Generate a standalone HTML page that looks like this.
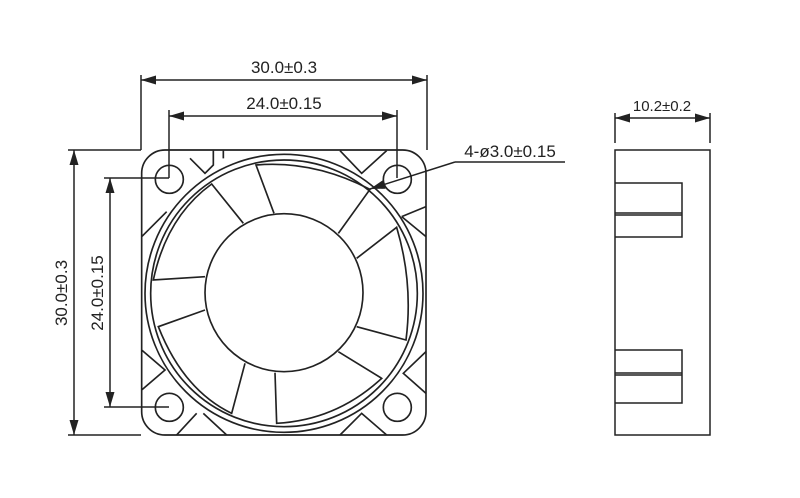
<!DOCTYPE html><html><head><style>body{margin:0;background:#fff}svg{display:block}text{font-family:"Liberation Sans",sans-serif;font-size:17px;fill:#222}</style></head><body>
<svg width="800" height="498" viewBox="0 0 800 498">
<defs><marker id="a" viewBox="0 0 10 6" refX="10" refY="3" markerWidth="10" markerHeight="6" orient="auto-start-reverse"><path d="M0,0L10,3L0,6z" fill="#222"/></marker></defs>
<g stroke="#222" fill="none" stroke-width="1.5">
<!-- dims top -->
<line x1="141" y1="75" x2="141" y2="150"/><line x1="427" y1="75" x2="427" y2="150"/>
<line x1="141" y1="80" x2="427" y2="80" marker-start="url(#a)" marker-end="url(#a)"/>
<line x1="169" y1="110" x2="169" y2="178"/><line x1="397" y1="110" x2="397" y2="178"/>
<line x1="169" y1="116" x2="397" y2="116" marker-start="url(#a)" marker-end="url(#a)"/>
<!-- dims left -->
<line x1="68" y1="150" x2="141" y2="150"/><line x1="68" y1="435" x2="141" y2="435"/>
<line x1="74" y1="150" x2="74" y2="435" marker-start="url(#a)" marker-end="url(#a)"/>
<line x1="104" y1="178" x2="169" y2="178"/><line x1="104" y1="407" x2="169" y2="407"/>
<line x1="110" y1="178" x2="110" y2="407" marker-start="url(#a)" marker-end="url(#a)"/>
<!-- leader -->
<line x1="455" y1="162" x2="565" y2="162"/>
<line x1="455" y1="162" x2="370" y2="189" marker-end="url(#a)"/>
<!-- side -->
<line x1="615" y1="113" x2="615" y2="143"/><line x1="710" y1="113" x2="710" y2="143"/>
<line x1="615" y1="118" x2="710" y2="118" marker-start="url(#a)" marker-end="url(#a)"/>
<rect x="615" y="150" width="95" height="285"/>
<path d="M615,183H682V237H615M615,213H682M615,215H682M615,350H682V403H615M615,373H682M615,375H682"/>
<g transform="translate(130,130) scale(0.33333)" stroke-width="5">
<rect x="35" y="60" width="853" height="855" rx="70"/>
<circle cx="118" cy="148" r="42"/><circle cx="802" cy="148" r="42"/><circle cx="118" cy="832" r="42"/><circle cx="802" cy="832" r="42"/>
<circle cx="462" cy="490" r="417"/><circle cx="462" cy="490" r="400"/>
<circle cx="462" cy="488" r="237"/>
<path d="M432,250L378,105Q550,90 720,178L625,310"/>
<path d="M680,385L800,292Q850,460 828,630L680,590"/>
<path d="M625,665L755,745Q620,870 440,880L435,728"/>
<path d="M225,540L85,590Q160,780 305,850L345,700"/>
<path d="M225,440L70,450Q110,260 245,162L340,280"/>
<path d="M35,320L110,245M180,85L225,130L250,105V62M280,62V85M630,62L695,130L770,62M888,230L815,260M815,260L888,320M35,660L105,720L35,780M220,850L290,915M200,850L140,915M630,915L695,850L770,915M888,665L820,730L888,790"/>
</g></g>
<text x="284" y="73" text-anchor="middle">30.0±0.3</text>
<text x="284" y="109" text-anchor="middle">24.0±0.15</text>
<text x="510" y="157" text-anchor="middle">4-ø3.0±0.15</text>
<text x="662" y="111" text-anchor="middle" style="font-size:15px">10.2±0.2</text>
<text transform="translate(67,293) rotate(-90)" text-anchor="middle">30.0±0.3</text>
<text transform="translate(103,293) rotate(-90)" text-anchor="middle">24.0±0.15</text>
</svg></body></html>
